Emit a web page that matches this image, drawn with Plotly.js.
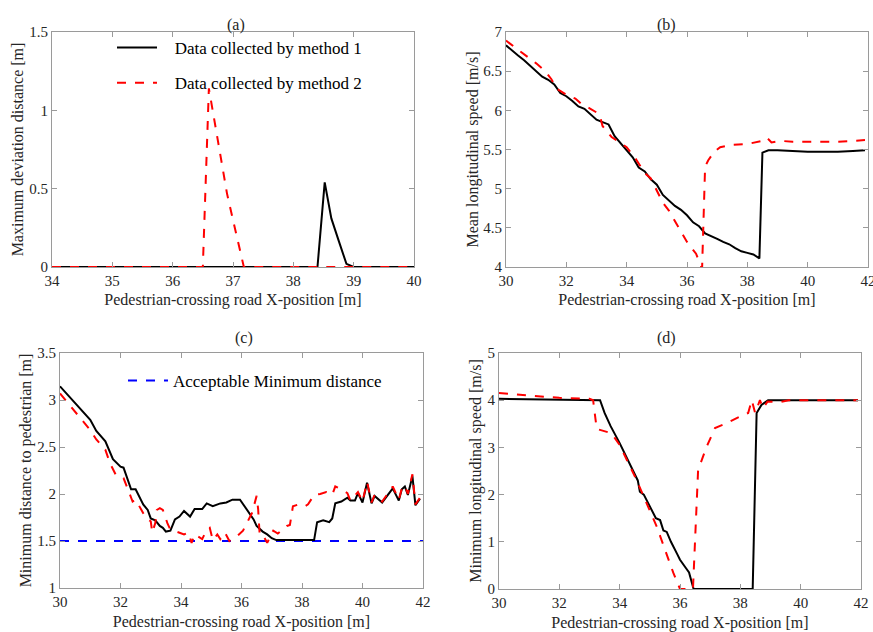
<!DOCTYPE html>
<html>
<head>
<meta charset="utf-8">
<script src="https://cdn.plot.ly/plotly-3.0.1.min.js"></script>
<style>html,body{margin:0;padding:0;background:#fff;}#chart{width:873px;height:632px;}</style>
</head>
<body>
<div id="chart"></div>
<script>
// ---- (a) Maximum deviation distance ----
const a_x1 = [34, 38.4, 38.52, 38.63, 38.75, 38.88, 39.0, 40];
const a_y1 = [0, 0, 0.54, 0.31, 0.17, 0.02, 0, 0];
const a_x2 = [34, 36.5, 36.6, 36.7, 36.8, 36.9, 37.0, 37.1, 37.18, 40];
const a_y2 = [0, 0, 1.14, 0.92, 0.68, 0.47, 0.3, 0.14, 0, 0];

// ---- (b) Mean longitudinal speed ----
const b_x1 = [30, 30.2, 30.4, 30.6, 30.8, 31, 31.2, 31.4, 31.6, 31.8, 32, 32.2, 32.4, 32.6, 32.8, 33, 33.2, 33.4, 33.6, 33.8, 34, 34.2, 34.4, 34.6, 34.8, 35, 35.2, 35.4, 35.6, 35.8, 36, 36.2, 36.4, 36.6, 36.8, 37, 37.2, 37.4, 37.6, 37.8, 38, 38.2, 38.4, 38.5, 38.7, 39, 39.5, 40, 40.5, 41, 41.5, 41.9];
const b_y1 = [6.83, 6.76, 6.70, 6.64, 6.57, 6.50, 6.43, 6.39, 6.33, 6.22, 6.18, 6.12, 6.05, 6.02, 5.95, 5.88, 5.85, 5.82, 5.67, 5.58, 5.50, 5.40, 5.27, 5.22, 5.12, 5.05, 4.92, 4.85, 4.78, 4.73, 4.66, 4.57, 4.52, 4.43, 4.40, 4.36, 4.32, 4.29, 4.24, 4.20, 4.18, 4.16, 4.11, 5.46, 5.49, 5.49, 5.48, 5.47, 5.47, 5.47, 5.48, 5.49];
const b_x2 = [30, 30.5, 31, 31.3, 31.5, 31.7, 32, 32.3, 32.5, 32.8, 33.1, 33.2, 33.5, 33.8, 34, 34.3, 34.6, 34.8, 35, 35.2, 35.4, 35.7, 36.0, 36.2, 36.3, 36.5, 36.6, 36.7, 36.9, 37.1, 37.5, 38.0, 38.3, 38.5, 38.65, 38.8, 39.1, 39.5, 40, 41, 41.5, 41.9];
const b_y2 = [6.89, 6.75, 6.6, 6.5, 6.4, 6.27, 6.2, 6.15, 6.08, 6.02, 5.95, 5.8, 5.66, 5.58, 5.53, 5.38, 5.2, 5.13, 4.98, 4.82, 4.72, 4.52, 4.32, 4.22, 4.17, 3.98, 5.28, 5.36, 5.47, 5.53, 5.56, 5.57, 5.59, 5.61, 5.65, 5.59, 5.61, 5.6, 5.6, 5.6, 5.61, 5.62];

// ---- (c) Minimum distance to pedestrian ----
const c_x1 = [30, 31, 31.2, 31.5, 31.75, 32, 32.1, 32.2, 32.35, 32.5, 32.75, 32.9, 33.0, 33.15, 33.3, 33.4, 33.5, 33.65, 33.8, 33.95, 34.1, 34.3, 34.45, 34.7, 34.85, 35.05, 35.3, 35.5, 35.7, 35.95, 36.2, 36.4, 36.5, 36.7, 36.85, 37.0, 37.15, 38.4, 38.5, 38.7, 38.9, 39.0, 39.1, 39.3, 39.5, 39.6, 39.75, 39.85, 40.0, 40.15, 40.3, 40.4, 40.65, 40.85, 41.0, 41.2, 41.3, 41.4, 41.5, 41.65, 41.75, 41.9];
const c_y1 = [3.145, 2.79, 2.67, 2.56, 2.37, 2.29, 2.28, 2.19, 2.05, 2.05, 1.89, 1.83, 1.74, 1.72, 1.66, 1.64, 1.60, 1.61, 1.73, 1.76, 1.82, 1.76, 1.84, 1.84, 1.90, 1.87, 1.90, 1.91, 1.94, 1.94, 1.83, 1.73, 1.66, 1.60, 1.57, 1.53, 1.51, 1.51, 1.70, 1.72, 1.70, 1.74, 1.90, 1.92, 1.96, 1.93, 1.93, 2.01, 1.91, 2.12, 1.90, 1.98, 1.91, 1.99, 2.06, 1.93, 2.05, 2.08, 1.99, 2.19, 1.88, 1.95];
const c_x2 = [30, 31, 31.2, 31.5, 31.65, 31.85, 32.1, 32.25, 32.4, 32.5, 32.7, 32.85, 33.0, 33.05, 33.15, 33.2, 33.3, 33.4, 33.55, 33.65, 33.85, 34.1, 34.25, 34.35, 34.45, 34.7, 34.85, 34.95, 35.05, 35.2, 35.3, 35.45, 35.6, 35.85, 36.05, 36.25, 36.35, 36.5, 36.55, 36.6, 36.7, 36.85, 36.95, 37.05, 37.2, 37.35, 37.5, 37.6, 37.7, 37.9, 38.1, 38.2, 38.4, 38.6, 38.8, 39.0, 39.1, 39.3, 39.5, 39.6, 39.85, 40.0, 40.15, 40.3, 40.4, 40.65, 40.85, 41.0, 41.2, 41.3, 41.4, 41.5, 41.65, 41.75, 41.9];
const c_y2 = [3.07, 2.68, 2.58, 2.47, 2.33, 2.20, 2.17, 2.05, 1.92, 1.94, 1.83, 1.74, 1.71, 1.59, 1.69, 1.83, 1.85, 1.83, 1.69, 1.62, 1.60, 1.57, 1.59, 1.48, 1.57, 1.52, 1.62, 1.64, 1.51, 1.57, 1.52, 1.59, 1.50, 1.55, 1.61, 1.73, 1.80, 1.98, 1.84, 1.57, 1.57, 1.48, 1.55, 1.61, 1.58, 1.62, 1.66, 1.67, 1.87, 1.89, 1.87, 1.89, 1.99, 2.00, 2.02, 1.99, 2.08, 2.05, 2.01, 1.93, 2.02, 1.92, 2.13, 1.91, 1.99, 1.92, 2.01, 2.08, 1.94, 2.06, 2.09, 2.00, 2.21, 1.89, 1.96];
const c_xlim = [30, 42];
const c_ylim = [1.5, 1.5];

// ---- (d) Minimum longitudinal speed ----
const d_x1 = [30, 33.35, 33.5, 33.7, 34, 34.2, 34.4, 34.6, 34.67, 34.8, 35, 35.2, 35.34, 35.45, 35.56, 35.7, 35.9, 36, 36.2, 36.3, 36.45, 38.41, 38.54, 38.7, 38.92, 41.9];
const d_y1 = [4.03, 4.0, 3.73, 3.45, 3.09, 2.82, 2.56, 2.3, 2.06, 2.0, 1.75, 1.5, 1.46, 1.24, 1.21, 1.0, 0.75, 0.62, 0.44, 0.35, 0, 0, 3.73, 3.9, 4.0, 4.0];
const d_x2 = [30, 31, 32, 33, 33.12, 33.24, 33.73, 34.0, 34.56, 35.23, 35.78, 36.0, 36.43, 36.6, 36.88, 37.16, 37.5, 37.88, 38.26, 38.38, 38.49, 38.65, 38.75, 38.9, 39.31, 39.6, 41.9];
const d_y2 = [4.15, 4.1, 4.05, 4.03, 4.0, 3.39, 3.3, 3.05, 2.31, 1.32, 0.34, 0, 0, 2.52, 3.01, 3.41, 3.5, 3.62, 3.73, 4.0, 3.73, 4.0, 3.83, 3.97, 3.96, 4.0, 4.0];

const panelTitles = ['(a)', '(b)', '(c)', '(d)'];
const xTitle = 'Pedestrian-crossing road X-position [m]';
const yTitles = ['Maximum deviation distance [m]', 'Mean longitudinal speed [m/s]', 'Minimum distance to pedestrian [m]', 'Minimum longitudinal speed [m/s]'];
const legendNames = ['Data collected by method 1', 'Data collected by method 2', 'Acceptable Minimum distance'];

const W = 873, H = 632;
const FONT = 'Liberation Serif, Times New Roman, serif';
const TXT = '#262626';
const AXC = '#9a9a9a';
const PAD = '\u00a0\u00a0\u00a0';

function px2x(a, b) { return [a / W, b / W]; }
function px2y(top, bottom) { return [1 - bottom / H, 1 - top / H]; }

function ax(domain, range, dtick, title, anchor, standoff) {
  return {
    domain: domain, range: range, dtick: dtick, tick0: range[0], anchor: anchor,
    showgrid: false, zeroline: false, showline: true, mirror: 'ticks',
    linecolor: AXC, linewidth: 1, ticks: 'inside', ticklen: 5, tickcolor: AXC,
    tickfont: {family: FONT, size: 15, color: TXT}, ticklabeloverflow: 'allow',
    title: {text: title, font: {family: FONT, size: 16, color: TXT}, standoff: standoff},
    automargin: false, fixedrange: true
  };
}

const solid = {color: '#000000', width: 2, dash: 'solid'};
const red = {color: '#ff0000', width: 2, dash: 'dash'};
const blue = {color: '#0000ff', width: 2, dash: 'dash'};

const traces = [
  {x: a_x1, y: a_y1, xaxis: 'x', yaxis: 'y', mode: 'lines', line: solid, name: PAD + legendNames[0], legendgroup: 'm1', showlegend: true, legend: 'legend'},
  {x: a_x2, y: a_y2, xaxis: 'x', yaxis: 'y', mode: 'lines', line: red, name: PAD + legendNames[1], legendgroup: 'm2', showlegend: true, legend: 'legend'},
  {x: b_x1, y: b_y1, xaxis: 'x2', yaxis: 'y2', mode: 'lines', line: solid, showlegend: false},
  {x: b_x2, y: b_y2, xaxis: 'x2', yaxis: 'y2', mode: 'lines', line: red, showlegend: false},
  {x: c_xlim, y: c_ylim, xaxis: 'x3', yaxis: 'y3', mode: 'lines', line: blue, name: legendNames[2], showlegend: true, legend: 'legend2'},
  {x: c_x1, y: c_y1, xaxis: 'x3', yaxis: 'y3', mode: 'lines', line: solid, showlegend: false},
  {x: c_x2, y: c_y2, xaxis: 'x3', yaxis: 'y3', mode: 'lines', line: red, showlegend: false},
  {x: d_x1, y: d_y1, xaxis: 'x4', yaxis: 'y4', mode: 'lines', line: solid, showlegend: false},
  {x: d_x2, y: d_y2, xaxis: 'x4', yaxis: 'y4', mode: 'lines', line: red, showlegend: false}
];

const layout = {
  width: W, height: H,
  margin: {l: 0, r: 0, t: 0, b: 0},
  paper_bgcolor: '#ffffff', plot_bgcolor: '#ffffff',
  font: {family: FONT, color: TXT},
  xaxis: ax(px2x(52, 414), [34, 40], 1, xTitle, 'y', 5),
  yaxis: ax(px2y(32, 267), [0, 1.5], 0.5, yTitles[0], 'x', 1),
  xaxis2: ax(px2x(506, 868), [30, 42], 2, xTitle, 'y2', 5),
  yaxis2: ax(px2y(32, 267), [4, 7], 0.5, yTitles[1], 'x2', 0),
  xaxis3: ax(px2x(60, 423), [30, 42], 2, xTitle, 'y3', 6),
  yaxis3: ax(px2y(353, 588), [1, 3.5], 0.5, yTitles[2], 'x3', 1),
  xaxis4: ax(px2x(499, 861), [30, 42], 2, xTitle, 'y4', 6),
  yaxis4: ax(px2y(353, 589), [0, 5], 1, yTitles[3], 'x4', 1),
  legend: {
    x: 112 / W, y: 1 - 30 / H, xanchor: 'left', yanchor: 'top',
    bgcolor: 'rgba(0,0,0,0)', borderwidth: 0,
    font: {family: FONT, size: 17, color: '#000'},
    traceorder: 'grouped', tracegroupgap: 10, itemwidth: 40
  },
  legend2: {
    x: 123 / W, y: 1 - 363 / H, xanchor: 'left', yanchor: 'top',
    bgcolor: 'rgba(0,0,0,0)', borderwidth: 0,
    font: {family: FONT, size: 17, color: '#000'}, itemwidth: 40
  },
  annotations: [
    {text: panelTitles[0], x: 225 / W, y: 1 - 14 / H, xref: 'paper', yref: 'paper', showarrow: false, font: {family: FONT, size: 16, color: TXT}},
    {text: panelTitles[1], x: 678 / W, y: 1 - 14 / H, xref: 'paper', yref: 'paper', showarrow: false, font: {family: FONT, size: 16, color: TXT}},
    {text: panelTitles[2], x: 233 / W, y: 1 - 338 / H, xref: 'paper', yref: 'paper', showarrow: false, font: {family: FONT, size: 16, color: TXT}},
    {text: panelTitles[3], x: 678 / W, y: 1 - 338 / H, xref: 'paper', yref: 'paper', showarrow: false, font: {family: FONT, size: 16, color: TXT}}
  ],
  showlegend: true
};

Plotly.newPlot('chart', traces, layout, {staticPlot: true, displayModeBar: false});
</script>
</body>
</html>
